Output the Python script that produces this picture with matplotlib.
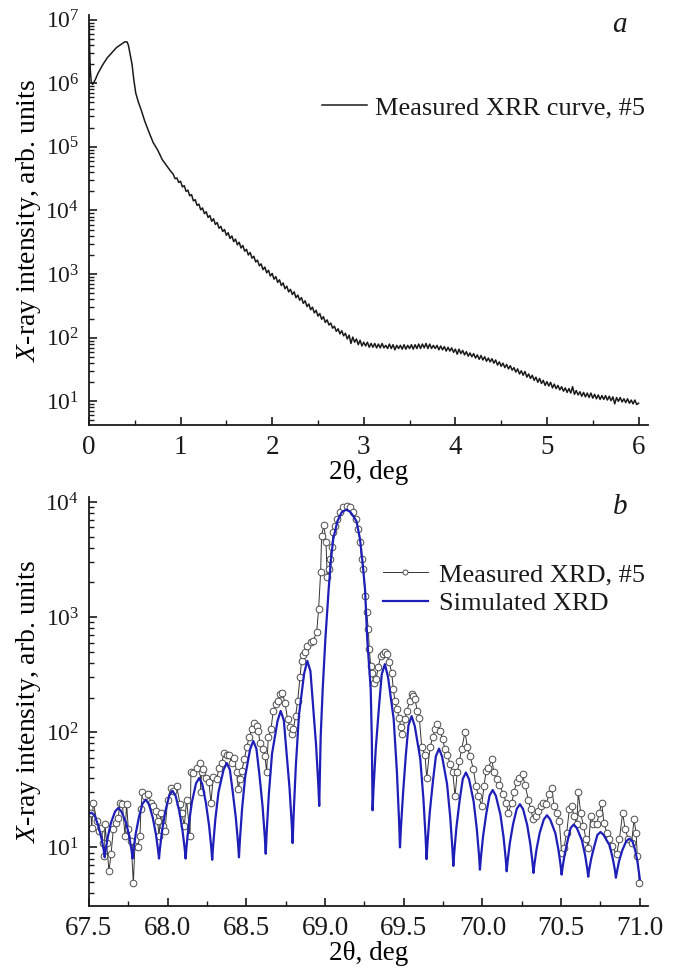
import numpy as np
import matplotlib
matplotlib.use("Agg")
import matplotlib.pyplot as plt
from matplotlib.ticker import LogLocator, MultipleLocator, FormatStrFormatter

plt.rcParams['font.family'] = 'Liberation Serif'
plt.rcParams['mathtext.fontset'] = 'custom'
plt.rcParams['mathtext.rm'] = 'Liberation Serif'
plt.rcParams['mathtext.it'] = 'Liberation Serif:italic'
plt.rcParams['text.color'] = '#1a1a1a'

# ---- panel a: XRR, 2theta (deg) and log10 of intensity ----
xrr_head_x = [0.0, 0.003, 0.008, 0.015, 0.025, 0.04, 0.07, 0.10, 0.15, 0.20,
              0.25, 0.30, 0.35, 0.39, 0.415, 0.43, 0.45, 0.47, 0.49, 0.51,
              0.54, 0.57, 0.61, 0.65, 0.70, 0.75, 0.80, 0.85, 0.89]
xrr_head_log = [5.65, 6.93, 6.50, 6.20, 6.02, 5.98, 6.06, 6.16, 6.29, 6.40,
                6.48, 6.56, 6.61, 6.65, 6.65, 6.60, 6.45, 6.30, 6.05, 5.85,
                5.70, 5.58, 5.40, 5.25, 5.07, 4.95, 4.80, 4.70, 4.62]

# measured on a 0.02 deg grid from 0.92 deg on
xrr_start, xrr_step = 0.92, 0.02
xrr_tail_log = [
    4.57, 4.50, 4.51, 4.44, 4.46, 4.37, 4.39, 4.30, 4.32, 4.23,
    4.25, 4.15, 4.17, 4.08, 4.10, 4.01, 4.04, 3.95, 3.98, 3.89,
    3.92, 3.83, 3.87, 3.78, 3.81, 3.72, 3.75, 3.67, 3.70, 3.61,
    3.65, 3.56, 3.60, 3.51, 3.55, 3.46, 3.50, 3.41, 3.45, 3.36,
    3.39, 3.30, 3.34, 3.25, 3.28, 3.19, 3.22, 3.13, 3.16, 3.07,
    3.11, 3.02, 3.06, 2.97, 3.01, 2.92, 2.96, 2.87, 2.91, 2.82,
    2.86, 2.77, 2.81, 2.72, 2.76, 2.68, 2.72, 2.63, 2.67, 2.59,
    2.63, 2.54, 2.58, 2.49, 2.53, 2.44, 2.48, 2.39, 2.43, 2.34,
    2.38, 2.29, 2.33, 2.24, 2.28, 2.20, 2.23, 2.15, 2.18, 2.10,
    2.14, 2.06, 2.11, 2.03, 2.07, 1.98, 2.04, 1.91, 2.01, 1.93,
    1.98, 1.89, 1.96, 1.87, 1.93, 1.87, 1.93, 1.85, 1.91, 1.85,
    1.91, 1.84, 1.90, 1.84, 1.91, 1.84, 1.88, 1.83, 1.90, 1.83,
    1.89, 1.81, 1.88, 1.83, 1.88, 1.82, 1.89, 1.82, 1.88, 1.83,
    1.89, 1.82, 1.89, 1.83, 1.90, 1.83, 1.90, 1.84, 1.91, 1.83,
    1.90, 1.83, 1.88, 1.83, 1.88, 1.81, 1.87, 1.81, 1.86, 1.79,
    1.85, 1.79, 1.84, 1.77, 1.82, 1.74, 1.82, 1.75, 1.80, 1.73,
    1.78, 1.71, 1.76, 1.70, 1.75, 1.68, 1.73, 1.66, 1.72, 1.65,
    1.70, 1.63, 1.68, 1.62, 1.67, 1.60, 1.65, 1.57, 1.62, 1.55,
    1.60, 1.53, 1.58, 1.51, 1.56, 1.49, 1.53, 1.46, 1.51, 1.43,
    1.48, 1.41, 1.47, 1.38, 1.43, 1.36, 1.41, 1.33, 1.38, 1.30,
    1.36, 1.28, 1.33, 1.25, 1.31, 1.24, 1.30, 1.21, 1.27, 1.20,
    1.25, 1.18, 1.23, 1.16, 1.21, 1.14, 1.20, 1.13, 1.23, 1.11,
    1.17, 1.10, 1.15, 1.08, 1.14, 1.07, 1.13, 1.06, 1.13, 1.05,
    1.11, 1.04, 1.10, 1.03, 1.09, 1.03, 1.09, 1.02, 1.08, 1.01,
    1.07, 0.96, 1.06, 1.00, 1.06, 0.99, 1.04, 0.98, 1.04, 0.97,
    1.02, 0.96, 1.02, 0.95, 0.97]

# ---- panel b: XRD ----
sim_x = [67.500, 67.517, 67.537, 67.560, 67.580, 67.594, 67.600, 67.606, 67.620, 67.640,
         67.666, 67.686, 67.706, 67.737, 67.757, 67.771, 67.777, 67.783, 67.797, 67.817,
         67.840, 67.860, 67.880, 67.905, 67.925, 67.939, 67.945, 67.951, 67.965, 67.985,
         68.010, 68.030, 68.050, 68.074, 68.094, 68.108, 68.114, 68.120, 68.134, 68.154,
         68.180, 68.200, 68.220, 68.243, 68.263, 68.277, 68.283, 68.289, 68.303, 68.323,
         68.355, 68.375, 68.395, 68.413, 68.433, 68.447, 68.453, 68.459, 68.473, 68.493,
         68.524, 68.544, 68.564, 68.583, 68.603, 68.617, 68.623, 68.629, 68.643, 68.663,
         68.698, 68.718, 68.738, 68.754, 68.774, 68.788, 68.794, 68.800, 68.814, 68.834,
         68.867, 68.887, 68.907, 68.923, 68.943, 68.957, 68.963, 68.972, 68.985, 69.002,
         69.023, 69.037, 69.052, 69.078, 69.105, 69.133, 69.160, 69.180, 69.200, 69.222,
         69.238, 69.254, 69.268, 69.290, 69.297, 69.302, 69.308, 69.322, 69.342, 69.360,
         69.380, 69.400, 69.436, 69.456, 69.470, 69.476, 69.482, 69.496, 69.513, 69.530,
         69.550, 69.570, 69.605, 69.625, 69.639, 69.645, 69.651, 69.665, 69.685, 69.704,
         69.724, 69.744, 69.775, 69.795, 69.809, 69.815, 69.821, 69.835, 69.855, 69.875,
         69.895, 69.915, 69.944, 69.964, 69.978, 69.984, 69.990, 70.004, 70.024, 70.045,
         70.065, 70.085, 70.114, 70.134, 70.148, 70.154, 70.160, 70.174, 70.194, 70.218,
         70.238, 70.258, 70.284, 70.304, 70.318, 70.324, 70.330, 70.344, 70.364, 70.390,
         70.410, 70.430, 70.463, 70.483, 70.497, 70.503, 70.509, 70.523, 70.543, 70.560,
         70.580, 70.600, 70.632, 70.652, 70.666, 70.672, 70.678, 70.692, 70.712, 70.730,
         70.750, 70.770, 70.808, 70.828, 70.842, 70.848, 70.854, 70.868, 70.888, 70.913,
         70.933, 70.953, 70.970, 70.985, 71.000]
sim_y = [19.6, 20.0, 18.8, 15.3, 11.9, 9.4, 8.2, 9.5, 12.4, 16.4,
         20.5, 22.0, 20.5, 16.2, 12.2, 9.3, 8.0, 9.5, 13.1, 18.2,
         23.9, 26.0, 23.9, 18.2, 13.1, 9.5, 8.0, 9.8, 14.1, 20.6,
         28.2, 31.0, 28.2, 20.6, 14.1, 9.8, 8.0, 10.2, 15.8, 24.7,
         35.9, 40.0, 35.5, 24.3, 15.5, 10.0, 7.8, 10.4, 17.6, 30.2,
         47.1, 54.0, 47.4, 30.7, 18.1, 10.9, 8.2, 11.6, 21.8, 41.7,
         71.3, 84.0, 71.7, 42.7, 22.7, 12.4, 8.8, 13.5, 29.2, 65.0,
         125, 153, 127, 69, 33, 16.2, 10.9, 18.8, 50, 140,
         323, 417, 340, 175, 77, 35.4, 22.9, 90, 237, 645,
         1750, 3100, 4760, 6770, 8100, 8570, 8200, 7500, 6770, 4760,
         3000, 1750, 645, 237, 90, 21, 32.5, 71.6, 162, 318,
         390, 302, 130, 46.6, 17.3, 10.0, 14.8, 30.1, 62.8, 115,
         138, 113, 58.6, 26.3, 12.1, 7.9, 11.0, 20.0, 37.1, 61.8,
         72.0, 61.1, 35.6, 18.5, 9.8, 6.9, 9.1, 15.1, 25.5, 39.3,
         44.7, 39.0, 25.0, 14.5, 8.6, 6.4, 8.1, 12.5, 19.5, 28.2,
         31.5, 28.1, 19.3, 12.3, 7.9, 6.2, 7.6, 10.9, 15.8, 21.6,
         23.7, 21.5, 15.7, 10.7, 7.4, 6.0, 7.1, 9.7, 13.4, 17.5,
         19.0, 17.5, 13.3, 9.5, 6.9, 5.8, 6.7, 8.8, 11.7, 14.7,
         15.8, 14.7, 11.5, 8.6, 6.5, 5.56, 6.4, 8.1, 10.4, 12.8,
         13.6, 12.8, 10.4, 8.0, 6.3, 5.45, 6.1, 7.6, 9.4, 11.3,
         11.9, 11.3, 9.5, 7.5, 5.3]

meas_x = [67.513, 67.517, 67.528, 67.549, 67.564, 67.576, 67.591, 67.597, 67.602, 67.612,
          67.627, 67.640, 67.655, 67.669, 67.686, 67.697, 67.712, 67.729, 67.739, 67.750,
          67.767, 67.782, 67.792, 67.809, 67.824, 67.830, 67.839, 67.856, 67.877, 67.894,
          67.909, 67.924, 67.936, 67.945, 67.957, 67.972, 67.983, 68.000, 68.021, 68.036,
          68.057, 68.078, 68.089, 68.106, 68.120, 68.142, 68.148, 68.163, 68.184, 68.205,
          68.210, 68.215, 68.226, 68.241, 68.262, 68.275, 68.290, 68.311, 68.326, 68.343,
          68.360, 68.375, 68.389, 68.406, 68.423, 68.438, 68.449, 68.459, 68.470, 68.487,
          68.502, 68.517, 68.534, 68.550, 68.565, 68.576, 68.586, 68.608, 68.618, 68.629,
          68.639, 68.656, 68.671, 68.686, 68.699, 68.713, 68.728, 68.745, 68.762, 68.777,
          68.788, 68.798, 68.813, 68.826, 68.841, 68.851, 68.862, 68.872, 68.887, 68.908,
          68.925, 68.947, 68.959, 68.972, 68.978, 68.993, 69.006, 69.014, 69.027, 69.031,
          69.042, 69.052, 69.063, 69.078, 69.095, 69.116, 69.137, 69.158, 69.180, 69.196,
          69.211, 69.222, 69.232, 69.243, 69.254, 69.264, 69.275, 69.281, 69.290, 69.296,
          69.311, 69.324, 69.338, 69.353, 69.366, 69.381, 69.391, 69.408, 69.423, 69.434,
          69.444, 69.455, 69.472, 69.480, 69.487, 69.508, 69.518, 69.540, 69.550, 69.561,
          69.571, 69.586, 69.599, 69.614, 69.635, 69.646, 69.667, 69.684, 69.699, 69.713,
          69.730, 69.747, 69.762, 69.777, 69.794, 69.811, 69.826, 69.840, 69.853, 69.868,
          69.889, 69.904, 69.921, 69.942, 69.959, 69.974, 69.995, 70.010, 70.023, 70.037,
          70.059, 70.073, 70.090, 70.107, 70.133, 70.150, 70.164, 70.186, 70.200, 70.217,
          70.234, 70.255, 70.270, 70.291, 70.306, 70.323, 70.340, 70.355, 70.370, 70.387,
          70.404, 70.425, 70.440, 70.455, 70.471, 70.488, 70.503, 70.518, 70.535, 70.552,
          70.567, 70.582, 70.599, 70.609, 70.624, 70.641, 70.658, 70.673, 70.688, 70.704,
          70.725, 70.743, 70.757, 70.772, 70.789, 70.806, 70.821, 70.853, 70.870, 70.891,
          70.906, 70.927, 70.948, 70.963, 70.976, 70.984, 70.997]
meas_y = [20, 14.8, 24.5, 17, 13.9, 14.8, 11, 8.4, 15.8, 11,
          6.2, 8.7, 14.4, 16.4, 18.1, 24.5, 24, 12.6, 24, 14.4,
          11.4, 4.9, 10.3, 10, 12.6, 21.4, 30, 28, 29, 24.5,
          23, 20.7, 17, 12.6, 20, 15.4, 13.9, 26, 33, 31,
          34, 24, 20, 15.4, 26, 12.6, 45, 44, 49, 54,
          30, 45, 48, 40, 37, 24.5, 41, 39, 49, 54,
          66.5, 63, 64, 54, 60, 45, 32, 39, 46, 58,
          74, 90, 106, 121, 114, 103, 81, 71, 62, 45,
          90, 106, 153, 175, 187, 214, 221, 181, 130, 110,
          96, 106, 139, 187, 299, 418, 470, 493, 563, 602,
          622, 745, 1170, 2480, 5100, 6300, 4460, 2210, 2610, 3190,
          4040, 5450, 6220, 7110, 8120, 8990, 9290, 8990, 8120, 7110,
          5820, 4460, 3190, 2610, 1530, 1100, 787, 527, 378, 330,
          270, 289, 365, 461, 477, 493, 477, 404, 330, 237,
          187, 159, 134, 110, 96, 130, 153, 187, 214, 207,
          194, 153, 134, 74, 64, 40, 74, 90, 106, 117,
          103, 87, 71, 64, 53, 45, 28, 45, 56, 71,
          101, 74, 62, 48, 34, 28, 23, 34, 46, 49,
          58, 45, 39, 35, 29, 24.5, 20, 24.5, 30, 37,
          40, 43, 35, 26, 21.4, 17.5, 18.7, 20.7, 23, 24.5,
          24, 29, 33, 23, 20, 17, 9, 9.9, 13.4, 21.4,
          23, 18.7, 15.8, 30, 20, 15.4, 11.8, 9.9, 18.7, 15.8,
          15.8, 20, 24.5, 16.4, 13.4, 11.8, 10.3, 8.7, 11.8, 20,
          14.4, 11.8, 11, 17.5, 13.4, 8.4, 4.9]

xrr_x = np.concatenate([xrr_head_x, xrr_start + xrr_step * np.arange(len(xrr_tail_log))])
xrr_y = 10 ** np.concatenate([xrr_head_log, xrr_tail_log])

fig = plt.figure(figsize=(6.74, 9.71), dpi=100)
ax1 = fig.add_axes([0.132, 0.562, 0.829, 0.423])
ax2 = fig.add_axes([0.132, 0.067, 0.829, 0.421])

ink = '#1a1a1a'


def style(ax):
    for s in ['top', 'right']:
        ax.spines[s].set_visible(False)
    for s in ['left', 'bottom']:
        ax.spines[s].set_linewidth(1.3)
        ax.spines[s].set_color(ink)
    ax.tick_params(which='major', direction='in', length=6, width=1.2,
                   labelsize=17, colors=ink, pad=7)
    ax.tick_params(which='minor', direction='in', length=3.5, width=1.0, colors=ink)
    ax.tick_params(axis='x', which='major', labelsize=19.5, pad=7)
    ax.set_yscale('log')
    ax.yaxis.set_major_locator(LogLocator(base=10, numticks=20))
    ax.yaxis.set_minor_locator(LogLocator(base=10, subs=np.arange(2, 10), numticks=20))
    ax.set_ylabel(r'$X$-ray intensity, arb. units', fontsize=20, labelpad=2)
    ax.set_xlabel('2θ, deg', fontsize=19.5, labelpad=0)


# panel a
ax1.plot(xrr_x, xrr_y, color=ink, lw=1.1, label='Measured XRR curve, #5')
style(ax1)
ax1.set_xlim(0, 6.1)
ax1.set_ylim(4.2, 1.2e7)
ax1.xaxis.set_major_locator(MultipleLocator(1))
ax1.xaxis.set_minor_locator(MultipleLocator(0.5))
ax1.legend(loc='center left', bbox_to_anchor=(0.417, 0.773), frameon=False,
           fontsize=19, handlelength=1.7, handletextpad=0.3,
           borderpad=0, borderaxespad=0)
ax1.text(0.95, 0.975, 'a', transform=ax1.transAxes, fontsize=21,
         style='italic', ha='center', va='center')

# panel b
ax2.plot(meas_x, meas_y, color='#333333', lw=0.7, marker='o', ms=4.8,
         mfc='white', mec='#4a4a4a', mew=0.7, label='Measured XRD, #5')
ax2.plot(sim_x, sim_y, color='#1e1eb8', lw=1.6, label='Simulated XRD')
style(ax2)
ax2.set_xlim(67.5, 71.05)
ax2.set_ylim(3.1, 1.1e4)
ax2.xaxis.set_major_locator(MultipleLocator(0.5))
ax2.xaxis.set_minor_locator(MultipleLocator(0.25))
ax2.xaxis.set_major_formatter(FormatStrFormatter('%.1f'))
ax2.legend(loc='center left', bbox_to_anchor=(0.526, 0.775), frameon=False,
           fontsize=19, handlelength=1.7, handletextpad=0.42, labelspacing=0.2,
           borderpad=0, borderaxespad=0, markerscale=0.75)
ax2.text(0.95, 0.975, 'b', transform=ax2.transAxes, fontsize=21,
         style='italic', ha='center', va='center')

fig.savefig('out.png', dpi=100)
